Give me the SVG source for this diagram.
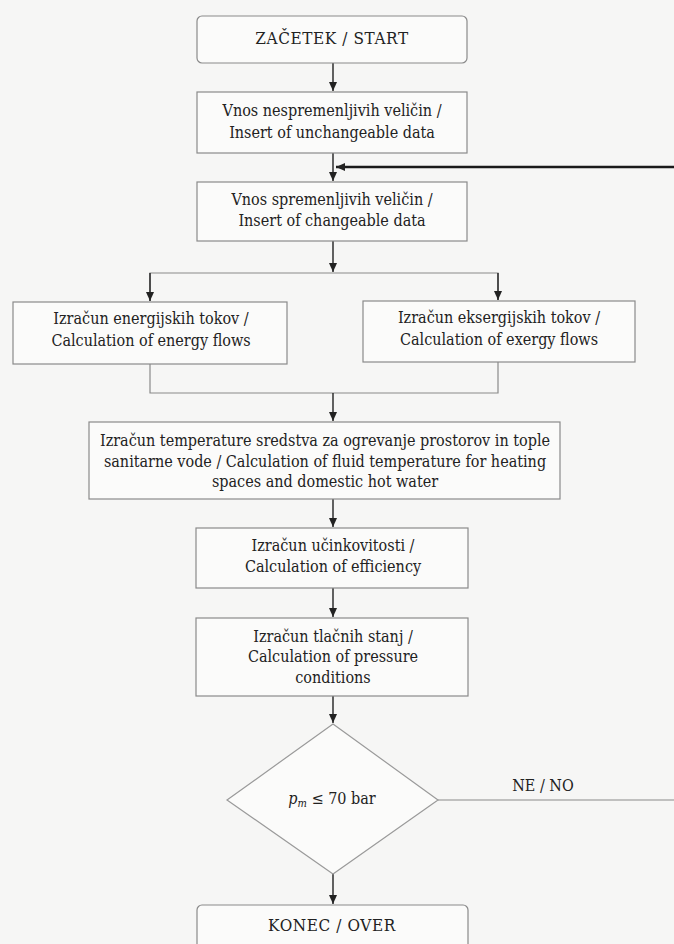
<svg xmlns="http://www.w3.org/2000/svg" width="674" height="944" viewBox="0 0 674 944">
<style>
.bg{fill:#f6f6f5}
.box{fill:#fbfbfa;stroke:#8a8a8a;stroke-width:1.2}
.dia{fill:#fbfbfa;stroke:#9a9a9a;stroke-width:1.2}
.t{font-family:'DejaVu Serif Condensed','DejaVu Serif','Liberation Serif',serif;font-size:16px;fill:#222;text-anchor:middle}
.cap{font-size:17px;letter-spacing:0.6px}
.c{fill:none;stroke:#222;stroke-width:1.4}
.g{fill:none;stroke:#8a8a8a;stroke-width:1.2}
.fb{fill:none;stroke:#1a1a1a;stroke-width:2.4}
</style>
<defs>
<marker id="ah" markerWidth="10" markerHeight="8" refX="9" refY="4" orient="auto" markerUnits="userSpaceOnUse">
<path d="M0,0 L9,4 L0,8 Z" fill="#222"/>
</marker>
</defs>
<rect class="bg" x="0" y="0" width="674" height="944"/>
<g id="connectors">
<line class="c" x1="333" y1="63" x2="333" y2="91" marker-end="url(#ah)"/>
<line class="c" x1="333" y1="153" x2="333" y2="181" marker-end="url(#ah)"/>
<line class="fb" x1="674" y1="167" x2="336" y2="167" marker-end="url(#ah)"/>
<line class="c" x1="333" y1="241" x2="333" y2="272" marker-end="url(#ah)"/>
<polyline class="g" points="150,301 150,273 498,273 498,300"/>
<line class="c" x1="150" y1="273" x2="150" y2="301" marker-end="url(#ah)"/>
<line class="c" x1="498" y1="273" x2="498" y2="300" marker-end="url(#ah)"/>
<polyline class="g" points="150,364 150,393 498,393 498,362"/>
<line class="c" x1="333" y1="393" x2="333" y2="421" marker-end="url(#ah)"/>
<line class="c" x1="333" y1="499" x2="333" y2="527" marker-end="url(#ah)"/>
<line class="c" x1="333" y1="588" x2="333" y2="617" marker-end="url(#ah)"/>
<line class="c" x1="333" y1="696" x2="333" y2="723" marker-end="url(#ah)"/>
<line class="g" x1="438" y1="800" x2="674" y2="800"/>
<text class="t" x="543" y="791">NE / NO</text>
<line class="c" x1="333" y1="874" x2="333" y2="904" marker-end="url(#ah)"/>
</g>
<g id="start">
<rect class="box" x="197" y="16" width="270" height="47" rx="5"/>
<text class="t cap" x="332" y="44">ZAČETEK / START</text>
</g>
<g id="unchangeable">
<rect class="box" x="197" y="92" width="270" height="61"/>
<text class="t" x="332" y="116">Vnos nespremenljivih veličin /</text>
<text class="t" x="332" y="138">Insert of unchangeable data</text>
</g>
<g id="changeable">
<rect class="box" x="197" y="182" width="270" height="59"/>
<text class="t" x="332" y="205">Vnos spremenljivih veličin /</text>
<text class="t" x="332" y="226">Insert of changeable data</text>
</g>
<g id="energy">
<rect class="box" x="13" y="302" width="274" height="62"/>
<text class="t" x="151" y="324">Izračun energijskih tokov /</text>
<text class="t" x="151" y="346">Calculation of energy flows</text>
</g>
<g id="exergy">
<rect class="box" x="363" y="301" width="272" height="61"/>
<text class="t" x="499" y="323">Izračun eksergijskih tokov /</text>
<text class="t" x="499" y="345">Calculation of exergy flows</text>
</g>
<g id="temperature">
<rect class="box" x="89" y="422" width="471" height="77"/>
<text class="t" x="325" y="446">Izračun temperature sredstva za ogrevanje prostorov in tople</text>
<text class="t" x="325" y="467">sanitarne vode / Calculation of fluid temperature for heating</text>
<text class="t" x="325" y="487">spaces and domestic hot water</text>
</g>
<g id="efficiency">
<rect class="box" x="196" y="528" width="272" height="60"/>
<text class="t" x="333" y="551">Izračun učinkovitosti /</text>
<text class="t" x="333" y="572">Calculation of efficiency</text>
</g>
<g id="pressure">
<rect class="box" x="196" y="618" width="272" height="78"/>
<text class="t" x="333" y="642">Izračun tlačnih stanj /</text>
<text class="t" x="333" y="662">Calculation of pressure</text>
<text class="t" x="333" y="683">conditions</text>
</g>
<g id="decision">
<polygon class="dia" points="333,724 438,800 333,874 227,800"/>
<text class="t" x="332" y="804" font-size="17"><tspan font-style="italic">p</tspan><tspan font-style="italic" font-size="11" dy="3">m</tspan><tspan dy="-3"> ≤ 70 bar</tspan></text>
</g>
<g id="end">
<rect class="box" x="197" y="905" width="271" height="50" rx="5"/>
<text class="t cap" x="332" y="931">KONEC / OVER</text>
</g>
</svg>
